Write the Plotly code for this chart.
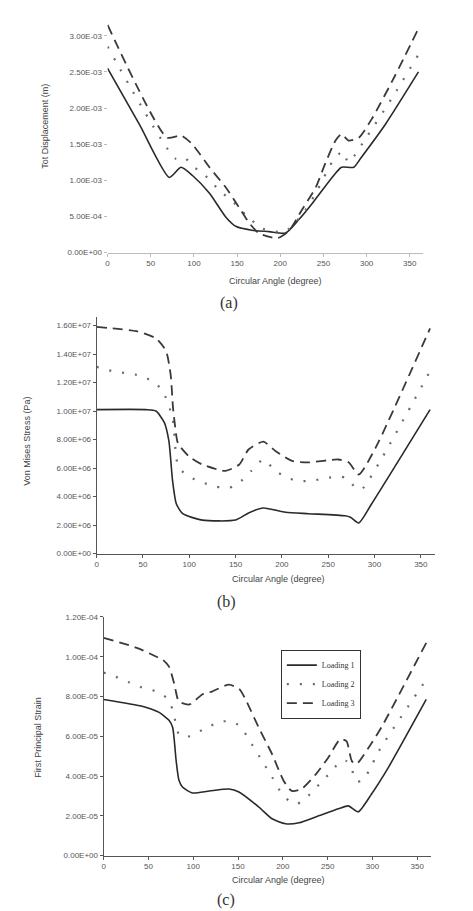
import plotly.graph_objects as go

W, H = 473, 911

# ---------------- data ----------------
# (a) Total displacement (m)
a_ang_L1 = [0, 37, 71.5, 85, 98, 118, 137, 149, 167, 187, 206, 221, 237, 260, 271, 285, 294, 322, 360]
a_val_L1 = [2.55e-3, 1.77e-3, 1.04e-3, 1.18e-3, 1.07e-3, 0.82e-3, 0.49e-3, 0.36e-3, 0.31e-3, 0.29e-3, 0.27e-3,
            0.45e-3, 0.68e-3, 1.04e-3, 1.18e-3, 1.18e-3, 1.32e-3, 1.78e-3, 2.50e-3]
a_ang_L2 = [0, 79, 89, 98, 110, 121, 131, 143, 160, 180, 205, 225, 241, 260, 272, 279, 300, 330, 360]
a_val_L2 = [2.85e-3, 1.30e-3, 1.32e-3, 1.20e-3, 1.10e-3, 0.97e-3, 0.84e-3, 0.73e-3, 0.52e-3, 0.33e-3, 0.29e-3,
            0.52e-3, 0.82e-3, 1.25e-3, 1.40e-3, 1.25e-3, 1.60e-3, 2.15e-3, 2.74e-3]
a_ang_L3 = [0, 69, 85, 98, 118, 137, 152, 164, 175, 190, 197, 210, 225, 241, 252, 264, 271, 279, 291, 306, 333, 360]
a_val_L3 = [3.15e-3, 1.59e-3, 1.62e-3, 1.50e-3, 1.18e-3, 0.90e-3, 0.63e-3, 0.41e-3, 0.27e-3, 0.21e-3, 0.20e-3,
            0.30e-3, 0.59e-3, 0.90e-3, 1.23e-3, 1.55e-3, 1.64e-3, 1.55e-3, 1.59e-3, 1.85e-3, 2.45e-3, 3.10e-3]
a_ticks = [0, 5e-4, 1e-3, 1.5e-3, 2e-3, 2.5e-3, 3e-3]
a_ticktext = ["0.00E+00", "5.00E-04", "1.00E-03", "1.50E-03", "2.00E-03", "2.50E-03", "3.00E-03"]

# (b) Von Mises stress (Pa)
b_ang_L1 = [0, 53, 64, 73, 78, 82, 86, 93, 114, 150, 164, 180, 204, 229, 268, 274, 283, 297, 360]
b_val_L1 = [10.1e6, 10.1e6, 10.0e6, 9.2e6, 7.9e6, 5.1e6, 3.5e6, 2.8e6, 2.35e6, 2.35e6, 2.85e6, 3.2e6, 2.9e6,
            2.8e6, 2.65e6, 2.55e6, 2.15e6, 3.5e6, 10.1e6]
b_ang_L2 = [0, 17, 32, 46, 60, 71, 82, 86, 89, 100, 114, 129, 143, 156, 167, 180, 193, 205, 216, 232, 247, 263,
            270, 279, 286, 304, 360]
b_val_L2 = [13.1e6, 12.8e6, 12.65e6, 12.5e6, 12.1e6, 11.45e6, 9.5e6, 6.7e6, 6.0e6, 5.4e6, 5.0e6, 4.7e6, 4.6e6,
            5.1e6, 5.8e6, 6.6e6, 5.8e6, 5.35e6, 5.1e6, 5.1e6, 5.3e6, 5.4e6, 5.3e6, 4.65e6, 4.5e6, 6.25e6, 12.8e6]
b_ang_L3 = [0, 43, 64, 75, 80, 82.5, 87, 89, 100, 114, 139, 154, 164, 180, 193, 211, 229, 261, 272, 283, 301, 360]
b_val_L3 = [15.9e6, 15.6e6, 15.1e6, 14.2e6, 12.5e6, 10.2e6, 7.9e6, 7.6e6, 6.8e6, 6.25e6, 5.8e6, 6.25e6, 7.3e6,
            7.85e6, 7.2e6, 6.5e6, 6.4e6, 6.6e6, 6.4e6, 5.55e6, 7.4e6, 15.8e6]
b_ticks = [0, 2e6, 4e6, 6e6, 8e6, 10e6, 12e6, 14e6, 16e6]
b_ticktext = ["0.00E+00", "2.00E+06", "4.00E+06", "6.00E+06", "8.00E+06", "1.00E+07", "1.20E+07", "1.40E+07",
              "1.60E+07"]

# (c) First principal strain
c_ang_L1 = [0, 44, 62, 73, 77, 81, 84, 88, 99, 118, 140, 151, 173, 188, 203, 218, 240, 262, 273, 284, 299, 318, 360]
c_val_L1 = [7.85e-5, 7.5e-5, 7.2e-5, 6.8e-5, 6.45e-5, 4.75e-5, 3.8e-5, 3.45e-5, 3.15e-5, 3.25e-5, 3.35e-5,
            3.2e-5, 2.45e-5, 1.85e-5, 1.6e-5, 1.65e-5, 2.0e-5, 2.35e-5, 2.5e-5, 2.2e-5, 3.1e-5, 4.45e-5, 7.85e-5]
c_ang_L2 = [0, 16, 29, 43, 59, 70, 77, 84, 92, 118, 132, 146, 155, 162, 177, 188, 199, 207, 216, 227, 236, 246,
            255, 264, 271, 277, 281, 288, 296, 307, 360]
c_val_L2 = [9.2e-5, 8.95e-5, 8.7e-5, 8.45e-5, 8.25e-5, 7.95e-5, 7.35e-5, 6.1e-5, 5.95e-5, 6.5e-5, 6.75e-5,
            6.7e-5, 6.35e-5, 5.85e-5, 4.75e-5, 3.95e-5, 3.1e-5, 2.75e-5, 2.6e-5, 2.95e-5, 3.35e-5, 3.85e-5,
            4.25e-5, 4.75e-5, 4.75e-5, 4.35e-5, 3.75e-5, 3.75e-5, 4.25e-5, 5.25e-5, 8.85e-5]
c_ang_L3 = [0, 37, 59, 66, 73, 79, 84, 96, 110, 121, 140, 152, 160, 173, 188, 201, 210, 221, 237, 251, 264, 271,
            277, 282, 296, 310, 360]
c_val_L3 = [10.95e-5, 10.45e-5, 10.0e-5, 9.85e-5, 9.5e-5, 8.6e-5, 7.75e-5, 7.6e-5, 8.1e-5, 8.25e-5, 8.6e-5,
            8.35e-5, 7.7e-5, 6.45e-5, 5.1e-5, 3.75e-5, 3.25e-5, 3.35e-5, 4.1e-5, 4.95e-5, 5.85e-5, 5.75e-5,
            4.75e-5, 4.6e-5, 5.45e-5, 6.45e-5, 10.7e-5]
c_ticks = [0, 2e-5, 4e-5, 6e-5, 8e-5, 10e-5, 12e-5]
c_ticktext = ["0.00E+00", "2.00E-05", "4.00E-05", "6.00E-05", "8.00E-05", "1.00E-04", "1.20E-04"]

x_ticks = [0, 50, 100, 150, 200, 250, 300, 350]
x_ticktext = ["0", "50", "100", "150", "200", "250", "300", "350"]
series_names = ["Loading 1", "Loading 2", "Loading 3"]

# ---------------- figure ----------------
def px(x):
    return x / W

def py(y):
    return 1 - y / H

styles = [
    dict(color="#2a2a2a", width=1.6, dash="solid"),
    dict(color="#6a6a6a", width=2.2, dash="2px,11px"),
    dict(color="#3a3a3a", width=1.8, dash="10px,6px"),
]

fig = go.Figure()
panels = [
    ("", [(a_ang_L1, a_val_L1), (a_ang_L2, a_val_L2), (a_ang_L3, a_val_L3)], False),
    ("2", [(b_ang_L1, b_val_L1), (b_ang_L2, b_val_L2), (b_ang_L3, b_val_L3)], False),
    ("3", [(c_ang_L1, c_val_L1), (c_ang_L2, c_val_L2), (c_ang_L3, c_val_L3)], True),
]
for suffix, data, show in panels:
    for i, (xs, ys) in enumerate(data):
        fig.add_trace(go.Scatter(
            x=xs, y=ys, mode="lines", name=series_names[i], showlegend=show,
            line=dict(shape="spline", smoothing=0.6, **styles[i]),
            xaxis="x" + suffix, yaxis="y" + suffix,
        ))

tickfont = dict(family="Liberation Sans, Arial, sans-serif", size=8, color="#555")

def xax(domain, anchor, linecolor):
    return dict(domain=domain, anchor=anchor, range=[0, 365], tickvals=x_ticks, ticktext=x_ticktext,
                showgrid=False, zeroline=False, showline=True, linecolor=linecolor, linewidth=1,
                ticks="outside", ticklen=3, tickcolor=linecolor, tickfont=tickfont)

def yax(domain, anchor, rng, tv, tt, linecolor, showline=True):
    return dict(domain=domain, anchor=anchor, range=rng, tickvals=tv, ticktext=tt,
                showgrid=False, zeroline=False, showline=showline, linecolor=linecolor, linewidth=1,
                ticks="outside", ticklen=3, tickcolor=linecolor, tickfont=tickfont)

fig.update_layout(
    width=W, height=H, margin=dict(l=0, r=0, t=0, b=0),
    paper_bgcolor="white", plot_bgcolor="white",
    xaxis=xax([px(98), px(414.5)], "y", "#bbbbbb"),
    yaxis=yax([py(243), py(9.4)], "x", [0, 3.2e-3], a_ticks, a_ticktext, "#bbbbbb", showline=False),
    xaxis2=xax([px(87), px(426.5)], "y2", "#555555"),
    yaxis2=yax([py(547), py(308)], "x2", [0, 16.6e6], b_ticks, b_ticktext, "#555555"),
    xaxis3=xax([px(94), px(422.5)], "y3", "#555555"),
    yaxis3=yax([py(852), py(611)], "x3", [0, 1.2e-4], c_ticks, c_ticktext, "#555555"),
    legend=dict(x=px(272), y=py(644), xanchor="left", yanchor="top",
                bordercolor="#333", borderwidth=1, bgcolor="white",
                font=dict(family="Liberation Serif, Times New Roman, serif", size=8, color="#333"),
                itemwidth=30, tracegroupgap=0),
)

titlefont = dict(family="Liberation Sans, Arial, sans-serif", size=9, color="#444")
capfont = dict(family="Liberation Serif, Times New Roman, serif", size=16, color="#333")
annots = [
    ("Tot Displacement (m)", 35, 115, -90, titlefont),
    ("Circular Angle (degree)", 267, 272, 0, titlefont),
    ("(a)", 220, 294, 0, capfont),
    ("Von Mises Stress (Pa)", 17, 433, -90, titlefont),
    ("Circular Angle (degree)", 270, 573, 0, titlefont),
    ("(b)", 217, 596, 0, capfont),
    ("First Principal Strain", 28, 732, -90, titlefont),
    ("Circular Angle (degree)", 270, 877, 0, titlefont),
    ("(c)", 217, 897, 0, capfont),
]
for text, x, y, ang, f in annots:
    fig.add_annotation(text=text, x=px(x), y=py(y), xref="paper", yref="paper",
                       showarrow=False, textangle=ang, font=f, xanchor="center", yanchor="middle")

fig.write_html("out.html")
